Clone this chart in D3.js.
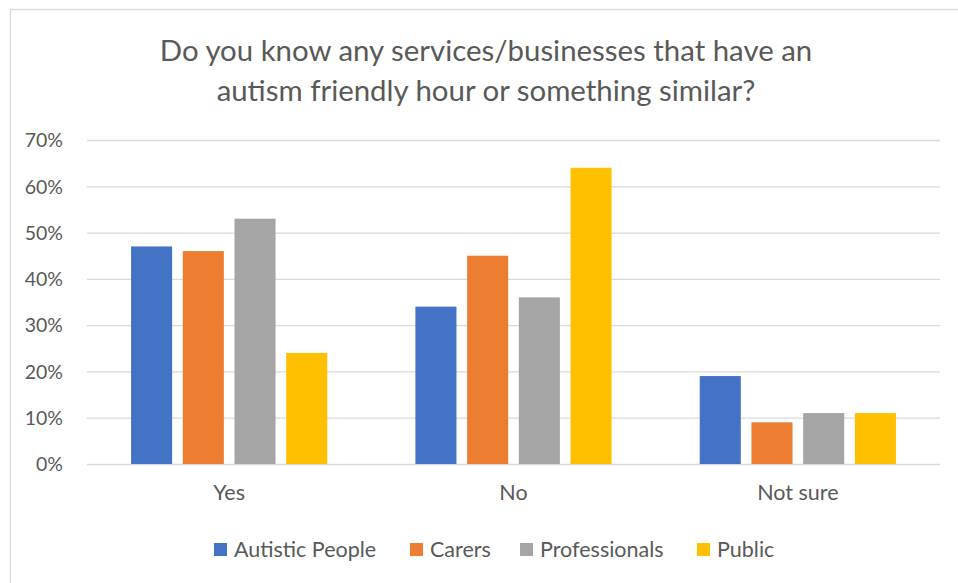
<!DOCTYPE html>
<html>
<head>
<meta charset="utf-8">
<script src="https://cdn.jsdelivr.net/npm/d3@7"></script>
<style>
  body { margin: 0; background: #fff; }
  text { font-family: Lato, "Noto Sans", sans-serif; fill: #595959; }
</style>
</head>
<body>
<div id="chart"></div>
<script>
// Data
const categories = ["Yes", "No", "Not sure"];
const seriesNames = ["Autistic People", "Carers", "Professionals", "Public"];
const autisticPeople = [0.47, 0.34, 0.19];
const carers = [0.46, 0.45, 0.09];
const professionals = [0.53, 0.36, 0.11];
const publicValues = [0.24, 0.64, 0.11];
const yTicks = [0, 0.1, 0.2, 0.3, 0.4, 0.5, 0.6, 0.7];
const colors = ["#4472c4", "#ed7d31", "#a5a5a5", "#ffc000"];

const seriesValues = [autisticPeople, carers, professionals, publicValues];
const rows = categories.map((c, i) => ({
  category: c,
  values: seriesNames.map((s, j) => ({ series: s, value: seriesValues[j][i] }))
}));

const W = 958, H = 583;
const plot = { left: 87, right: 940, top: 140, bottom: 464 };

const svg = d3.select("#chart")
  .append("svg")
    .attr("width", W)
    .attr("height", H);

// chart area border
svg.append("rect")
  .attr("x", 10.5).attr("y", 9.5)
  .attr("width", W + 20).attr("height", H + 20)
  .attr("fill", "#fff")
  .attr("stroke", "#d9d9d9")
  .attr("stroke-width", 1.3);

// Title
svg.append("text")
  .attr("x", 486).attr("y", 61)
  .attr("text-anchor", "middle")
  .style("font-size", "29.4px")
  .text("Do you know any services/businesses that have an");
svg.append("text")
  .attr("x", 486).attr("y", 101)
  .attr("text-anchor", "middle")
  .style("font-size", "29.4px")
  .text("autism friendly hour or something similar?");

// Scales
const x0 = d3.scaleBand()
  .domain(categories)
  .range([plot.left, plot.right])
  .paddingInner(0.31)
  .paddingOuter(0.155);

const x1 = d3.scaleBand()
  .domain(seriesNames)
  .range([0, x0.bandwidth()])
  .paddingInner(0.206)
  .paddingOuter(0);

const y = d3.scaleLinear()
  .domain([0, 0.7])
  .range([plot.bottom, plot.top]);

const color = d3.scaleOrdinal().domain(seriesNames).range(colors);

// Gridlines + y labels
const yAxis = svg.append("g")
  .attr("transform", `translate(${plot.left},0)`)
  .call(d3.axisLeft(y)
    .tickValues(yTicks)
    .tickSize(-(plot.right - plot.left))
    .tickPadding(24)
    .tickFormat(d3.format(".0%")));
yAxis.select(".domain").remove();
yAxis.selectAll(".tick line")
  .attr("stroke", "#d9d9d9")
  .attr("stroke-width", 1.3);
yAxis.selectAll(".tick text")
  .attr("font-size", null)
  .style("font-size", "19.5px")
  .attr("dy", "0.35em");

// Bars
svg.append("g")
  .selectAll("g")
  .data(rows)
  .join("g")
    .attr("transform", d => `translate(${x0(d.category)},0)`)
  .selectAll("rect")
  .data(d => d.values)
  .join("rect")
    .attr("x", d => x1(d.series))
    .attr("y", d => y(d.value))
    .attr("width", x1.bandwidth())
    .attr("height", d => y(0) - y(d.value))
    .attr("fill", d => color(d.series));

// X labels
const xAxis = svg.append("g")
  .attr("transform", `translate(0,${plot.bottom})`)
  .call(d3.axisBottom(x0).tickSize(0).tickPadding(21));
xAxis.select(".domain").remove();
xAxis.selectAll(".tick text")
  .attr("font-size", null)
  .style("font-size", "21.5px");

// Legend
const legendX = [214, 410, 520, 697];
const legend = svg.append("g")
  .selectAll("g")
  .data(seriesNames)
  .join("g")
    .attr("transform", (d, i) => `translate(${legendX[i]},543)`);
legend.append("rect")
  .attr("width", 13).attr("height", 13)
  .attr("fill", d => color(d));
legend.append("text")
  .attr("x", 20).attr("y", 14)
  .style("font-size", "21.5px")
  .text(d => d);
</script>
</body>
</html>
